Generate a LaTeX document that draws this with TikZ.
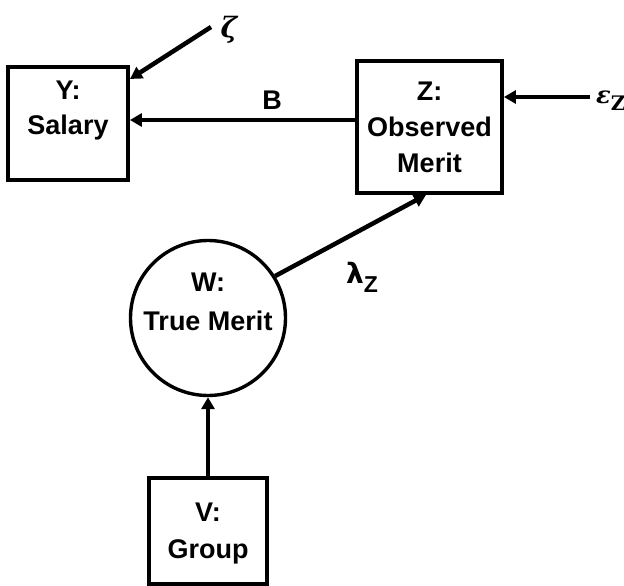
\documentclass[tikz,border=0pt]{standalone}
\usepackage{fontspec}
\setmainfont{Liberation Sans}
\newfontfamily\greekfont{DejaVu Sans}
\newfontfamily\greekserif{DejaVu Serif}
\usetikzlibrary{arrows.meta}
\begin{document}
\begin{tikzpicture}[x=1pt,y=-1pt,
  box/.style={draw,line width=3.8pt,minimum width=#1},
  lbl/.style={font=\fontsize{27}{35}\selectfont\bfseries,align=center,inner sep=0pt},
  arr/.style={line width=4.5pt,-{Triangle[length=12pt,width=13pt]}},
  sym/.style={inner sep=0pt,font=\fontsize{26}{30}\selectfont}]
\useasboundingbox (0,0) rectangle (624,586);
\node[box=120pt,minimum height=113pt] (Y) at (68,123.5) {};
\node[lbl] (Yt) at (68,111) {Y:\\Salary};
\node[box=145pt,minimum height=132pt] (Z) at (429.5,127) {};
\node[lbl,font=\fontsize{27}{36}\selectfont\bfseries] (Zt) at (429.5,127) {Z:\\Observed\\Merit};
\node[draw,circle,line width=3.4pt,minimum size=155pt,inner sep=0pt] (W) at (208,318) {};
\node[lbl,font=\fontsize{27}{39}\selectfont\bfseries] (Wt) at (208,302) {W:\\True Merit};
\node[box=118pt,minimum height=106pt] (V) at (208,531) {};
\node[lbl,font=\fontsize{27}{37}\selectfont\bfseries] (Vt) at (208,534) {V:\\Group};
\coordinate (zs) at (211,27);
\coordinate (es) at (590,97);
\node[sym,font=\fontsize{28}{30}\selectfont\greekserif\bfseries\itshape] (zl) at (229,30) {ζ};
\node[sym,font=\fontsize{24}{30}\selectfont\greekserif\bfseries\itshape,anchor=west] (el) at (596,101) {ε\raisebox{-7pt}{\fontsize{20}{20}\selectfont\upshape Z}};
\node[sym,font=\fontsize{27}{30}\selectfont\bfseries] (Bl) at (272,100) {B};
\node[sym,font=\fontsize{28}{30}\selectfont\bfseries] (ll) at (362,277) {{\greekfont λ}\raisebox{-9pt}{\fontsize{23}{23}\selectfont Z}};
\draw[arr] (zs) -- (130,79);
\draw[arr] (Z.west |- 0,120) -- (Y.east |- 0,120);
\draw[arr] (es) -- (Z.east |- 0,97);
\draw[arr] (W.32) -- (Z.south -| 426,0);
\draw[arr] (V.north) -- (W.south);
\end{tikzpicture}
\end{document}
